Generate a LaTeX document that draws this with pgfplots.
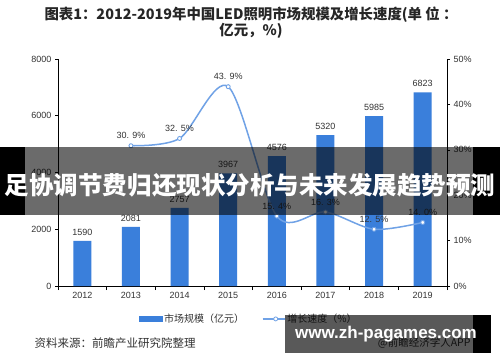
\documentclass[border=0pt]{standalone}
\usepackage{fontspec}
\setmainfont{Liberation Sans}
\newfontfamily\cjk{Noto Sans CJK SC}
\usepackage{pgfplots}
\pgfplotsset{compat=1.18}
\definecolor{barblue}{HTML}{3A7FDB}
\definecolor{lineblue}{HTML}{70A2E6}
\definecolor{txt}{HTML}{333333}
\begin{document}
\begin{tikzpicture}[x=1bp,y=1bp]
\path[use as bounding box, fill=white] (0,0) rectangle (500,362);
\node[font=\cjk\bfseries\fontsize{14.4bp}{15.5bp}\selectfont, align=center, text=black!85] at (251,339.5) {图表1：2012-2019年中国LED照明市场规模及增长速度(单 位 ：\\亿元，\%)};
\begin{axis}[
  at={(58bp,76bp)}, anchor=south west, scale only axis, width=389bp, height=227bp,
  xmin=-0.5, xmax=7.5, ymin=0, ymax=8000,
  axis x line*=bottom, axis y line*=left,
  axis line style={-, black, line width=0.7bp},
  xtick={0,...,7}, xticklabels={2012,2013,2014,2015,2016,2017,2018,2019},
  minor xtick={-0.5,0.5,...,7.5},
  major x tick style={draw=none},
  minor x tick style={black, line width=0.6bp},
  minor tick length=4bp,
  ytick={0,2000,4000,6000,8000},
  y tick style={black, line width=0.6bp},
  tick align=outside, major tick length=3bp,
  tick label style={font=\fontsize{9bp}{10bp}\selectfont, text=txt},
  /pgf/number format/1000 sep={}, /pgf/number format/assume math mode=true,
  ybar, bar width=18bp,
  nodes near coords,
  nodes near coords style={font=\fontsize{9bp}{10bp}\selectfont, text=txt, yshift=2bp},
  clip=false,
]
\addplot[fill=barblue, draw=none] coordinates {
(0,1590) (1,2081) (2,2757) (3,3967) (4,4576) (5,5320) (6,5985) (7,6823)};
\end{axis}
\begin{axis}[
  at={(58bp,76bp)}, anchor=south west, scale only axis, width=389bp, height=227bp,
  xmin=-0.5, xmax=7.5, ymin=0, ymax=50,
  axis x line=none, axis y line*=right,
  axis line style={-, black, line width=0.7bp},
  ytick={0,10,20,30,40,50},
  yticklabel={\pgfmathprintnumber{\tick}\%},
  y tick style={black, line width=0.6bp},
  tick align=outside, major tick length=3bp,
  tick label style={font=\fontsize{9bp}{10bp}\selectfont, text=txt},
  /pgf/number format/assume math mode=true,
  clip=false,
  legend style={at={(0.49,-0.145)}, anchor=center, draw=none, fill=none,
    font=\cjk\fontsize{10bp}{12bp}\selectfont, text=txt,
    /tikz/every even column/.append style={column sep=16bp}},
  legend columns=2,
]
\addlegendimage{legend image code/.code={\fill[barblue] (0bp,-2.5bp) rectangle (23bp,2.5bp);}}
\addlegendentry{市场规模（亿元）}
\addplot[lineblue, line width=1.5bp, smooth, mark=*, mark size=2bp,
  mark options={fill=white, draw=lineblue, line width=0.9bp},
  nodes near coords, point meta=explicit symbolic,
  nodes near coords style={font=\fontsize{9bp}{10bp}\selectfont, text=txt, anchor=south, yshift=3bp},
  legend image code/.code={\draw[lineblue,line width=1.2bp] (0bp,0bp) -- (22bp,0bp); \draw[lineblue, fill=white, line width=0.8bp] (13bp,0bp) circle (2bp);}
] coordinates {
(1,30.9) [30. 9\%]
(2,32.5) [32. 5\%]
(3,43.9) [43. 9\%]
(4,15.4) [15. 4\%]
(5,16.3) [16. 3\%]
(6,12.5) [12. 5\%]
(7,14.0) [14. 0\%]
};
\addlegendentry{增长速度（\%）}
\end{axis}
% overlay banner
\fill[black] (0,147) rectangle (25,215);
\fill[black] (473,147) rectangle (500,215);
\fill[black, opacity=0.58] (25,147) rectangle (473,215);
\node[text=white, font=\cjk\bfseries\fontsize{24.5bp}{26bp}\selectfont] at (250,177) {足协调节费归还现状分析与未来发展趋势预测};
% footer
\node[anchor=west, font=\cjk\fontsize{11.5bp}{13bp}\selectfont, text=txt] at (31,19) {资料来源：前瞻产业研究院整理};
\node[anchor=east, font=\cjk\fontsize{10.5bp}{12bp}\selectfont, text=txt] at (474,19) {@前瞻经济学人APP};
\fill[black, opacity=0.65] (285,9) rectangle (473,47);
\fill[black] (473,9) rectangle (491,47);
\node[text=white, font=\bfseries\fontsize{17bp}{19bp}\selectfont] at (386,28) {www.zh-pagames.com};
\end{tikzpicture}
\end{document}
